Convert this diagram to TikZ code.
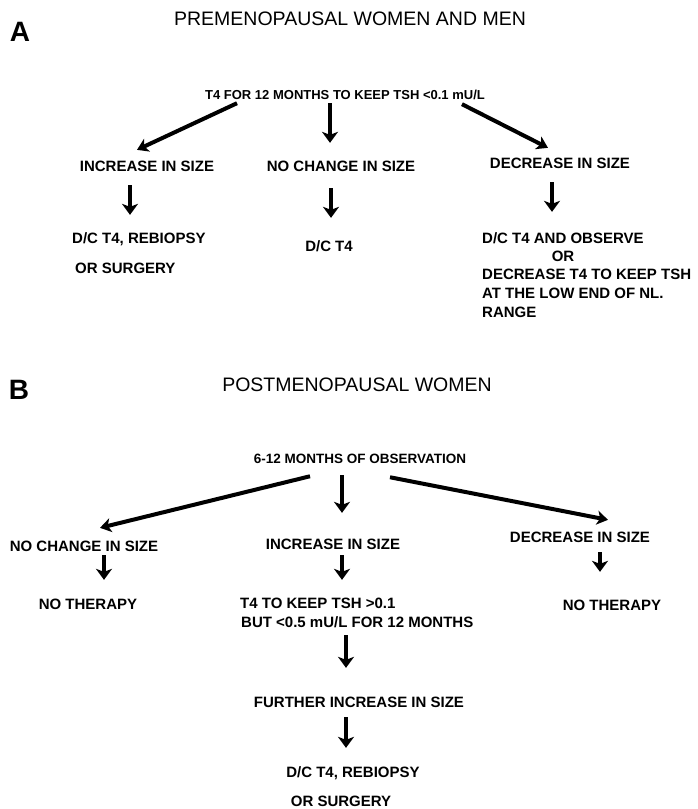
\documentclass[tikz,border=0pt]{standalone}
\usepackage{fontspec}
\setmainfont{Liberation Sans}
\usetikzlibrary{arrows.meta,calc}
\tikzset{
 txt/.style={inner sep=0pt, font=\bfseries\fontsize{15}{18}\selectfont, text height=10.7pt, text depth=0pt},
 smalltxt/.style={inner sep=0pt, font=\bfseries\fontsize{13}{16}\selectfont, text height=9.3pt, text depth=0pt},
 obstxt/.style={inner sep=0pt, font=\bfseries\fontsize{13.5}{16}\selectfont, text height=9.7pt, text depth=0pt},
 ttl/.style={inner sep=0pt, font=\fontsize{19.5}{23}\selectfont, text height=14pt, text depth=0pt},
 panel/.style={inner sep=0pt, font=\bfseries\fontsize{28}{32}\selectfont, text height=20pt, text depth=0pt},
 arr/.style={line width=3.8pt, -{Stealth[length=11pt,width=16pt,inset=3pt]}},
 oarr/.style={line width=4pt, -{Stealth[length=11pt,width=14pt,inset=3pt]}}
}
\begin{document}
\begin{tikzpicture}[x=1pt,y=-1pt]
\fill[white] (0,0) rectangle (697,809);
\useasboundingbox (0,0) rectangle (697,809);
% ---------- Panel A ----------
\node[panel] (labA) at (20,31) {A};
\node[ttl] (titA) at (350,18) {PREMENOPAUSAL WOMEN AND MEN};
\node[smalltxt] (t4) at (345,95) {T4 FOR 12 MONTHS TO KEEP TSH <0.1 mU/L};
\node[txt] (incA) at (147,166) {INCREASE IN SIZE};
\node[txt] (nochA) at (341,166) {NO CHANGE IN SIZE};
\node[txt] (decA) at (560,163) {DECREASE IN SIZE};
\node[txt,anchor=west] (rebA1) at (72,238) {D/C T4, REBIOPSY};
\node[txt,anchor=west] (rebA2) at (75,268) {OR SURGERY};
\node[txt] (dcA) at (329,246) {D/C T4};
\node[txt,anchor=west] (rdA1) at (482,238) {D/C T4 AND OBSERVE};
\node[txt] (rdA2) at (563,256) {OR};
\node[txt,anchor=west] (rdA3) at (482,274) {DECREASE T4 TO KEEP TSH};
\node[txt,anchor=west] (rdA4) at (482,293) {AT THE LOW END OF NL.};
\node[txt,anchor=west] (rdA5) at (482,312) {RANGE};
\draw[oarr] ($(t4.south)+(-108,3.35)$) -- ($(incA.north)+(-10,-10.6)$);
\draw[arr] ($(t4.south)+(-15,3.35)$) -- ($(nochA.north)+(-11,-17.6)$);
\draw[oarr] ($(t4.south)+(117,4.35)$) -- ($(decA.north)+(-12,-9.6)$);
\draw[arr] ($(incA.south)+(-17,13.6)$) -- ($(rebA1.north west)+(58,-17.6)$);
\draw[arr] ($(nochA.south)+(-10,16.6)$) -- ($(dcA.north)+(2,-22.6)$);
\draw[arr] ($(decA.south)+(-8,13.6)$) -- ($(rdA1.north west)+(70,-20.6)$);
% ---------- Panel B ----------
\node[panel] (labB) at (19,389) {B};
\node[ttl] (titB) at (357,384) {POSTMENOPAUSAL WOMEN};
\node[obstxt] (obs) at (360,459) {6-12 MONTHS OF OBSERVATION};
\node[txt] (ncB) at (84,546) {NO CHANGE IN SIZE};
\node[txt] (incB) at (333,544) {INCREASE IN SIZE};
\node[txt] (decB) at (580,537) {DECREASE IN SIZE};
\node[txt] (ntL) at (88,604) {NO THERAPY};
\node[txt] (ntR) at (612,605) {NO THERAPY};
\node[txt,anchor=west] (t4b1) at (240,603) {T4 TO KEEP TSH >0.1};
\node[txt,anchor=west] (t4b2) at (241,622) {BUT <0.5 mU/L FOR 12 MONTHS};
\node[txt] (fur) at (359,702) {FURTHER INCREASE IN SIZE};
\node[txt] (rebB1) at (353,772) {D/C T4, REBIOPSY};
\node[txt] (rebB2) at (341,801) {OR SURGERY};
\draw[oarr] ($(obs.south)+(-50,12.2)$) -- ($(ncB.north)+(16,-12.6)$);
\draw[arr] ($(obs.south)+(-18,11.2)$) -- ($(incB.north)+(9,-25.6)$);
\draw[oarr] ($(obs.south)+(30,13.2)$) -- ($(decB.north)+(28,-11.6)$);
\draw[arr] ($(ncB.south)+(20,3.6)$) -- ($(ntL.north)+(16,-18.6)$);
\draw[arr] ($(incB.south)+(9,5.6)$) -- ($(t4b1.north west)+(102,-17.6)$);
\draw[arr] ($(decB.south)+(20,9.6)$) -- ($(ntR.north)+(-12,-27.6)$);
\draw[arr] ($(t4b2.south west)+(105,7.6)$) -- ($(fur.north)+(-13,-28.6)$);
\draw[arr] ($(fur.south)+(-13,9.6)$) -- ($(rebB1.north)+(-7,-18.6)$);
\end{tikzpicture}
\end{document}
